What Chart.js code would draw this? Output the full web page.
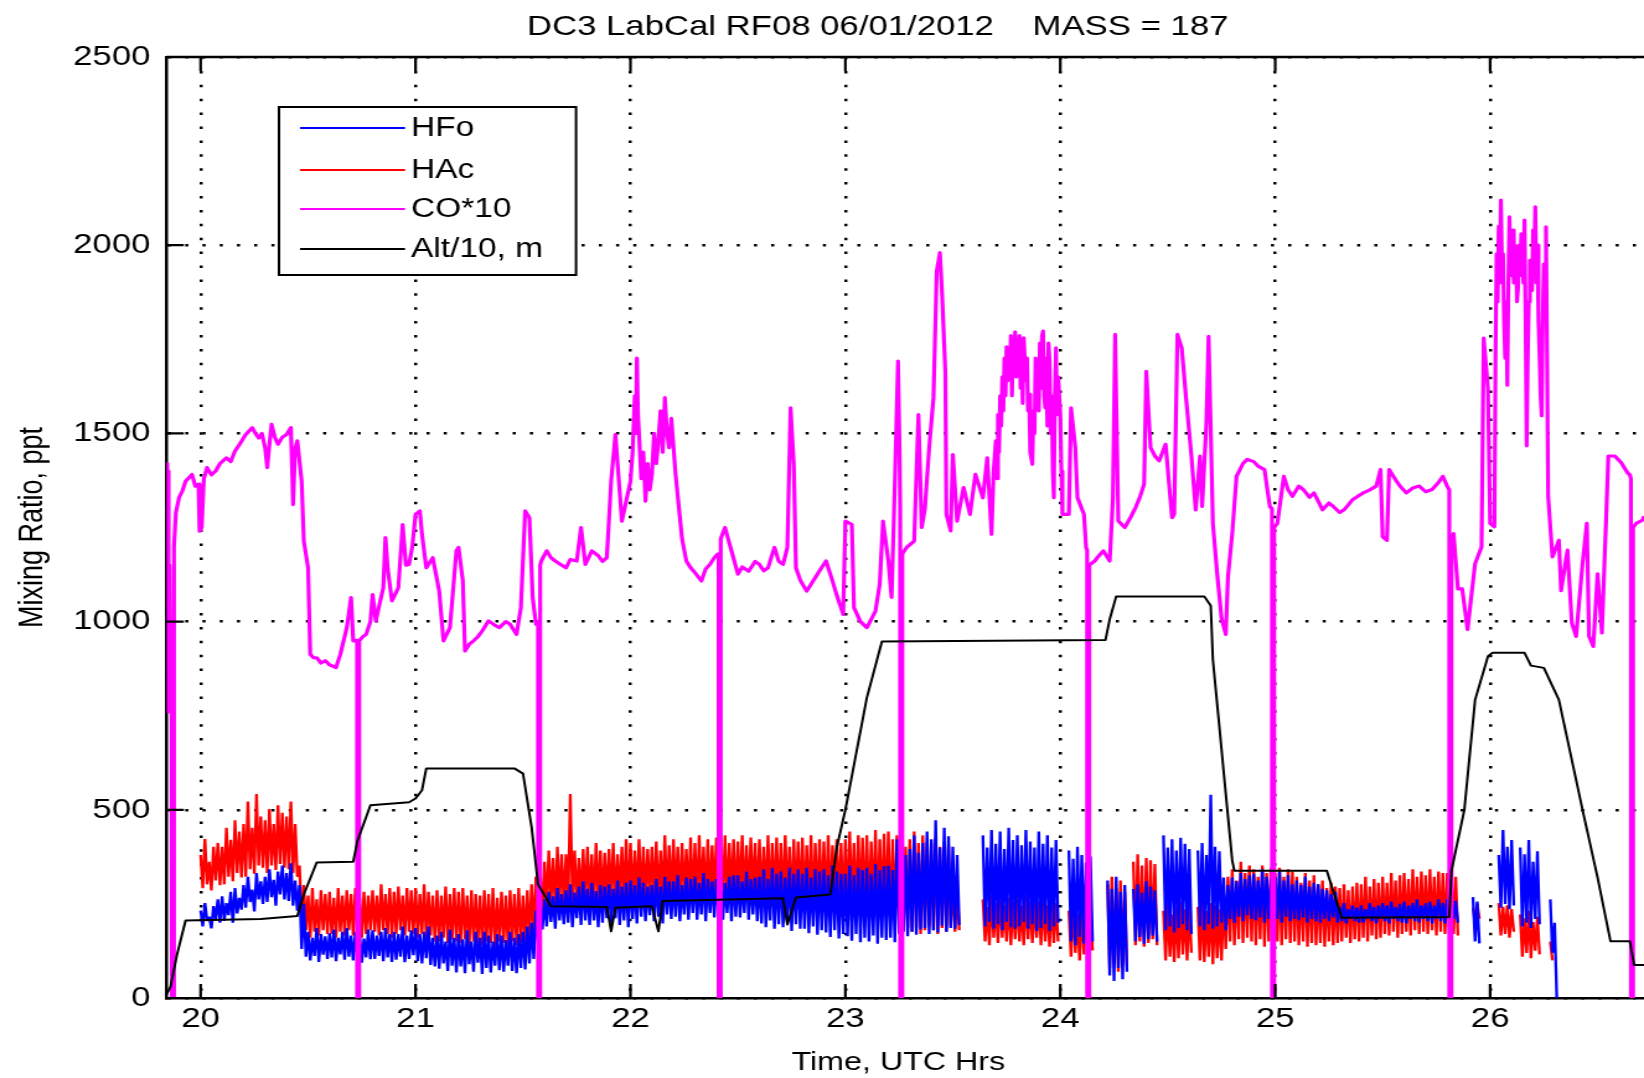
<!DOCTYPE html>
<html><head><meta charset="utf-8">
<script src="https://cdn.jsdelivr.net/npm/chart.js@4.4.1/dist/chart.umd.min.js"></script>
<style>
html,body{margin:0;padding:0;background:#fff;overflow:hidden;width:1644px;height:1078px;}
#wrap{position:absolute;left:0;top:0;width:1326px;height:1078px;transform:scaleX(1.23982);transform-origin:0 0;}
canvas{display:block;}
</style></head><body>
<div id="wrap"><canvas id="c" width="1326" height="1078"></canvas></div>
<script>
// ---------------- data ----------------
const titleText = 'DC3 LabCal RF08 06/01/2012    MASS = 187';
const xTitle = 'Time, UTC Hrs';
const yTitle = 'Mixing Ratio, ppt';
const seriesNames = ['HFo', 'HAc', 'CO*10', 'Alt/10, m'];
const xTicks = [20, 21, 22, 23, 24, 25, 26];
const yTicks = [0, 500, 1000, 1500, 2000, 2500];
const xRange = [19.8413, 26.716];
const yRange = [0, 2500];

// HFo / HAc : min & max per 0.02 h time bin, bins from 20.00 h to 26.30 h
const binStart = 20.0, binStep = 0.02;

const hfoLo = [
190,205,185,210,200, 205,220,200,225,235, 240,255,230,262,250, 255,268,245,275,262,
258,245,232,130,110, 100,112,96,115,104, 108,98,116,102,110, 100,106,94,108,103,
104,112,98,108,96, 102,110,95,104,114, 98,92,106,88,84, 78,92,72,86,68,
84,66,90,70,94, 64,80,68,86,74, 70,86,72,66,80, 76,92,104,150,182,
190,202,184,206,196, 200,188,212,194,206, 194,206,188,200,212, 198,212,194,206,188,
210,198,216,204,220, 204,216,198,222,210, 216,204,222,208,226, 208,222,204,226,214,
220,208,226,204,216, 214,226,208,222,204, 198,188,206,184,196, 188,200,178,196,184,
184,172,190,168,180, 174,162,180,158,170, 164,152,170,148,160, 150,166,144,160,154,
160,148,170,176,164, 176,168,182,186,170, 180,174,192,176,186, 184,194,null,null,null,
null,null,190,202,184, 196,180,202,188,184, 190,202,184,196,178, 186,196,178,190,200,
null,null,150,140,162, 144,134,150,null,null, null,60,45,80,50, 70,null,150,162,144,
156,166,150,null,180, 190,174,186,196,180, 170,null,190,180,196, 184,190,200,180,210,
200,216,204,220,210, 206,214,200,210,220, 210,200,216,204,210, 206,214,200,210,204,
200,210,204,214,200, 204,198,210,204,200, 200,210,204,198,210, 204,198,210,204,200,
198,210,204,200,210, 204,198,210,204,198, 204,210,200,null,null, null,150,145,null,null,
null,null,240,250,236, 246,null,190,200,186, 210,196,null,null,120,
0];
const hfoHi = [
232,252,216,244,262, 270,252,282,292,266, 300,322,288,332,310, 322,342,314,336,352,
332,358,312,300,250, 176,160,186,170,164, 172,182,160,176,186, 166,176,170,158,182,
180,166,176,186,170, 176,170,190,166,180, 186,170,176,190,160, 166,176,150,182,160,
170,156,180,150,176, 160,176,166,150,170, 166,154,176,160,170, 176,190,200,232,250,
262,282,270,292,276, 286,302,280,296,310, 290,306,284,300,296, 302,290,312,296,306,
312,300,320,306,296, 300,316,296,322,310, 310,326,300,320,316, 322,306,332,316,310,
316,330,306,322,326, 326,310,336,316,320, 322,342,316,346,330, 336,320,346,330,342,
330,346,320,342,336, 342,326,352,336,330, 330,352,326,346,340, 346,330,356,340,350,
352,340,422,400,380, 396,432,386,412,442, 422,472,400,452,430, 402,380,null,null,null,
null,null,432,400,446, 410,442,396,452,420, 432,406,446,416,400, 442,410,432,400,420,
null,null,392,370,402, 380,360,376,null,null, null,312,290,322,282, 300,null,290,302,280,
310,296,286,null,432, 400,422,392,426,410, 396,null,392,412,380, 540,402,390,320,300,
320,310,332,316,326, 330,312,342,322,316, 322,336,312,326,302, 312,300,322,296,306,
302,290,286,276,282, 242,252,236,246,240, 246,236,252,242,246, 252,246,256,242,250,
256,246,252,262,246, 252,256,246,262,252, 262,252,258,null,null, null,268,256,null,null,
null,null,380,446,402, 420,null,400,382,420, 362,390,null,null,262,
200];

const hacLo = [
292,302,286,312,300, 302,322,310,332,320, 322,342,330,352,346, 332,352,340,356,346,
342,332,322,200,180, 160,176,166,180,170, 170,160,176,166,180, 166,176,160,170,180,
176,166,180,170,160, 170,180,166,176,170, 160,170,156,166,150, 150,160,146,156,150,
146,156,140,150,146, 140,150,146,136,150, 146,136,150,140,146, 150,160,170,200,220,
240,250,236,256,246, 250,260,246,256,250, 256,246,260,250,266, 260,250,266,256,246,
256,266,250,260,270, 260,250,266,256,260, 266,256,270,260,250, 256,266,250,260,270,
260,270,256,266,250, 266,256,260,270,256, 250,260,246,256,250, 246,256,240,250,246,
240,250,236,246,240, 236,246,230,240,236, 230,240,226,236,230, 226,236,220,230,226,
200,210,190,180,186, 176,186,170,180,190, 180,170,186,176,190, 176,180,null,null,null,
null,null,150,140,160, 146,160,150,140,156, 150,140,156,146,160, 140,150,136,146,150,
null,null,110,120,100, 116,106,126,null,null, null,80,90,70,96, 86,null,140,150,136,
146,156,140,null,100, 110,96,106,116,100, 120,null,100,96,110, 90,106,100,130,150,
140,156,146,160,150, 140,156,136,150,146, 150,140,156,146,150, 140,150,136,146,140,
146,136,150,140,146, 150,160,146,156,150, 160,150,166,156,160, 170,166,176,160,170,
176,166,180,170,176, 170,180,166,176,170, 176,170,166,null,null, null,200,210,null,null,
null,null,166,170,160, 176,null,110,120,106, 126,116,null,null,100,
null];
const hacHi = [
380,422,362,402,412, 402,452,420,472,442, 462,522,452,542,482, 472,502,462,512,492,
482,522,462,352,300, 272,292,262,286,276, 282,266,292,272,286, 276,292,266,282,272,
286,272,302,276,292, 282,296,272,292,286, 292,276,302,282,272, 286,272,296,276,292,
282,292,272,286,276, 272,286,276,292,266, 282,272,286,276,292, 272,286,302,322,332,
362,392,372,402,382, 382,542,392,372,396, 402,382,412,392,386, 396,412,382,402,422,
412,392,422,402,396, 402,416,392,432,406, 422,402,412,396,426, 412,432,402,422,406,
426,402,432,412,422, 416,432,406,426,412, 422,402,432,412,426, 412,432,402,422,416,
426,406,432,412,422, 416,432,406,422,412, 422,442,412,432,426, 432,416,446,422,436,
442,422,432,412,402, 422,442,412,432,416, 412,426,402,416,406, 302,282,null,null,null,
null,null,262,242,272, 252,272,246,266,256, 262,246,272,256,252, 256,266,246,262,252,
null,null,232,252,222, 242,236,246,null,null, null,302,322,292,312, 282,null,362,382,352,
372,366,356,null,232, 252,222,242,256,236, 246,null,242,262,232, 252,246,236,262,322,
342,312,362,332,352, 342,322,352,332,346, 332,346,322,342,336, 322,306,332,312,326,
302,312,292,306,296, 292,302,286,296,306, 302,322,296,316,306, 322,306,332,312,326,
332,316,342,322,336, 326,342,322,336,332, 332,342,322,null,null, null,240,250,null,null,
null,null,252,242,246, 236,null,222,212,232, 202,216,null,null,150,
null];

// CO*10 : [time h, value]
const coSeries = [
[19.8415,1420],[19.845,1250],[19.848,1400],[19.851,760],[19.855,1150],[19.86,820],[19.865,900],
[19.866,0],[19.876,0],[19.876,1200],
[19.885,1290],[19.90,1330],[19.915,1347],[19.93,1373],[19.96,1391],[19.975,1360],[19.99,1365],[19.995,1240],[20.005,1250],[20.015,1380],
[20.03,1409],[20.05,1390],[20.07,1400],[20.09,1420],[20.12,1435],[20.14,1425],[20.16,1453],[20.18,1470],[20.21,1497],[20.24,1515],
[20.255,1500],[20.27,1488],[20.285,1500],[20.30,1462],[20.31,1409],[20.32,1470],[20.33,1524],[20.345,1490],[20.36,1471],[20.38,1490],
[20.40,1497],[20.42,1515],[20.43,1311],[20.44,1460],[20.45,1480],[20.47,1373],[20.48,1214],[20.50,1143],[20.51,913],[20.525,904],
[20.54,904],[20.56,890],[20.58,896],[20.60,885],[20.63,878],[20.65,913],[20.68,984],[20.70,1064],[20.71,949],[20.725,950],
[20.728,950],[20.728,0],[20.738,0],[20.738,949],
[20.755,960],[20.77,966],[20.79,1000],[20.80,1072],[20.815,1002],[20.83,1040],[20.85,1090],[20.86,1223],[20.87,1143],[20.89,1055],
[20.92,1090],[20.94,1258],[20.955,1150],[20.97,1152],[20.985,1200],[21.0,1285],[21.02,1294],[21.03,1232],[21.05,1143],[21.08,1170],
[21.11,1081],[21.13,949],[21.16,984],[21.19,1188],[21.20,1197],[21.22,1108],[21.23,922],[21.25,940],[21.27,949],[21.29,960],
[21.31,975],[21.34,1002],[21.37,990],[21.39,984],[21.42,1000],[21.44,993],[21.47,966],[21.49,1037],[21.51,1294],[21.53,1276],
[21.545,1064],[21.56,993],
[21.57,1000],[21.57,0],[21.58,0],[21.58,1150],
[21.585,1161],[21.61,1188],[21.63,1170],[21.65,1161],[21.68,1150],[21.70,1143],[21.72,1165],[21.75,1161],[21.77,1250],[21.79,1152],
[21.82,1188],[21.85,1175],[21.87,1160],[21.89,1170],[21.91,1373],[21.93,1497],[21.96,1267],[21.98,1320],[22.0,1373],[22.01,1450],[22.02,1600],
[22.025,1500],[22.03,1700],[22.035,1550],[22.04,1497],[22.05,1380],[22.06,1450],[22.07,1320],[22.08,1420],[22.09,1350],[22.10,1391],[22.11,1500],[22.12,1420],[22.13,1480],[22.14,1560],[22.15,1450],[22.16,1595],[22.17,1500],[22.18,1462],[22.19,1540],[22.21,1391],[22.24,1220],[22.26,1161],
[22.28,1143],[22.30,1130],[22.33,1108],[22.35,1140],[22.37,1152],[22.39,1170],[22.405,1179],
[22.41,1180],[22.41,0],[22.42,0],[22.42,1220],
[22.44,1250],[22.47,1188],[22.50,1126],[22.52,1145],[22.55,1134],[22.58,1160],[22.60,1152],[22.62,1135],[22.64,1143],[22.67,1197],
[22.69,1160],[22.71,1152],[22.73,1197],[22.745,1568],[22.76,1418],[22.77,1143],[22.79,1110],[22.82,1081],[22.85,1108],[22.88,1135],
[22.91,1161],[22.94,1108],[22.96,1070],[22.99,1019],[23.0,1267],[23.03,1258],[23.04,1037],[23.07,1000],[23.10,984],[23.14,1028],
[23.16,1100],[23.175,1267],[23.20,1161],[23.215,1064],[23.23,1365],[23.245,1692],[23.252,1462],
[23.255,1300],[23.255,0],[23.265,0],[23.265,1180],
[23.285,1197],[23.32,1214],[23.34,1550],[23.355,1250],[23.37,1300],[23.39,1462],[23.41,1595],[23.425,1931],[23.44,1980],[23.45,1869],
[23.465,1665],[23.47,1285],[23.49,1241],[23.50,1444],[23.52,1267],[23.55,1356],[23.58,1285],[23.605,1391],[23.64,1329],[23.66,1435],
[23.68,1232],[23.69,1400],[23.70,1480],[23.705,1380],[23.71,1550],[23.715,1450],[23.72,1600],[23.725,1520],[23.73,1650],[23.735,1560],
[23.74,1700],[23.745,1600],[23.75,1730],[23.755,1640],[23.76,1719],[23.765,1660],[23.77,1760],[23.775,1600],[23.78,1740],[23.785,1680],
[23.79,1770],[23.795,1650],[23.80,1745],[23.805,1690],[23.81,1760],[23.815,1620],[23.82,1750],[23.825,1580],[23.83,1754],[23.84,1640],
[23.845,1700],[23.85,1560],[23.855,1604],[23.86,1450],[23.87,1418],[23.875,1560],[23.88,1500],[23.885,1700],[23.89,1600],[23.895,1674],
[23.90,1560],[23.905,1740],[23.91,1620],[23.915,1760],[23.92,1772],[23.925,1600],[23.93,1568],[23.935,1700],[23.94,1520],[23.945,1740],
[23.95,1692],[23.955,1500],[23.96,1600],[23.965,1400],[23.97,1329],[23.975,1600],[23.98,1727],[23.985,1550],[23.99,1650],[24.0,1550],
[24.005,1400],[24.01,1285],[24.04,1285],[24.05,1568],[24.07,1462],
[24.08,1329],[24.11,1285],[24.12,1197],
[24.125,1190],[24.125,0],[24.135,0],[24.135,1150],
[24.16,1161],[24.18,1175],[24.20,1188],[24.23,1161],[24.245,1329],[24.255,1763],[24.27,1267],[24.30,1250],[24.33,1280],[24.35,1303],
[24.37,1330],[24.39,1365],[24.40,1665],[24.42,1462],[24.44,1440],[24.46,1427],[24.49,1471],[24.52,1276],[24.53,1285],[24.545,1763],
[24.565,1727],[24.585,1595],[24.61,1440],[24.63,1297],[24.65,1440],[24.66,1306],[24.68,1530],[24.69,1758],[24.71,1261],[24.73,1127],
[24.75,1010],[24.77,966],[24.78,1118],[24.80,1234],[24.82,1386],[24.85,1420],[24.87,1431],[24.90,1425],[24.92,1413],[24.95,1404],
[24.975,1306],
[24.985,1300],[24.985,0],[24.995,0],[24.995,1250],
[25.01,1261],[25.04,1386],[25.06,1350],[25.08,1333],[25.11,1360],[25.13,1351],[25.16,1330],[25.18,1342],[25.20,1320],[25.22,1297],
[25.25,1315],[25.27,1306],[25.30,1290],[25.32,1297],[25.34,1310],[25.36,1324],[25.39,1335],[25.41,1342],[25.44,1350],[25.47,1360],
[25.49,1404],[25.50,1225],[25.52,1216],[25.53,1404],[25.56,1377],[25.58,1360],[25.61,1342],[25.64,1355],[25.67,1360],[25.70,1345],
[25.73,1351],[25.76,1370],[25.78,1386],[25.80,1360],
[25.81,1350],[25.81,0],[25.82,0],[25.82,1200],
[25.83,1234],[25.85,1087],[25.87,1087],[25.895,979],[25.91,1055],[25.93,1154],[25.96,1198],[25.97,1753],[25.99,1619],[26.0,1261],
[26.02,1252],[26.025,1700],[26.03,1977],[26.035,1850],[26.04,2050],[26.045,1900],[26.05,2120],[26.055,1950],[26.06,1977],[26.065,1800],
[26.07,1700],[26.075,1850],[26.08,1628],[26.085,1900],[26.09,2075],[26.095,1920],[26.10,1950],[26.105,2040],[26.11,1900],[26.115,2000],
[26.12,1995],[26.125,1850],[26.13,1888],[26.135,2000],[26.14,1920],[26.145,2030],[26.15,2000],[26.155,1900],[26.16,2067],[26.165,1800],
[26.17,1467],[26.175,1700],[26.18,1850],[26.185,1960],[26.19,1959],[26.195,1880],[26.20,2040],[26.205,1950],[26.21,2102],[26.215,1900],
[26.22,2000],[26.225,1800],[26.23,1709],[26.235,1600],[26.24,1547],[26.245,1800],[26.25,1950],[26.255,1850],[26.26,2049],[26.265,1700],
[26.27,1333],[26.29,1172],[26.32,1216],
[26.33,1082],[26.36,1190],[26.38,997],[26.40,961],[26.43,1154],[26.45,1261],[26.46,961],[26.48,934],[26.50,1127],[26.52,970],
[26.54,1279],[26.55,1440],[26.58,1440],[26.61,1422],[26.64,1395],[26.65,1390],
[26.655,1380],[26.655,0],[26.665,0],[26.665,1250],
[26.68,1261],[26.71,1270],[26.716,1280]
];

// Alt/10 : [time h, value]
const altSeries = [
[19.842,10],[19.86,30],[19.89,115],[19.93,206],[20.28,210],[20.45,218],[20.48,275],[20.54,360],[20.71,362],[20.73,418],
[20.79,512],[20.97,520],[21.0,530],[21.03,552],[21.05,610],[21.46,610],[21.50,596],[21.54,454],[21.57,302],[21.63,244],
[21.89,242],[21.91,177],[21.93,240],[22.10,244],[22.13,177],[22.15,258],[22.71,265],[22.73,195],[22.77,267],[22.93,275],
[22.96,400],[23.0,500],[23.10,798],[23.17,947],[24.21,951],[24.23,1006],[24.26,1067],[24.67,1067],[24.70,1042],[24.71,899],
[24.80,365],[24.81,338],[25.24,338],[25.26,302],[25.31,213],[25.81,215],[25.82,338],[25.88,500],[25.93,792],[25.99,908],
[26.01,917],[26.16,917],[26.19,883],[26.25,877],[26.32,792],[26.43,500],[26.50,320],[26.56,151],[26.65,151],[26.67,88],
[26.716,88]
];

// ---------------- build ----------------
function minMaxTrace(lo, hi) {
  const pts = [];
  for (let i = 0; i < lo.length; i++) {
    const t = +(binStart + i * binStep).toFixed(4);
    if (lo[i] == null || hi[i] == null) { pts.push({x: t, y: null}); continue; }
    pts.push({x: t, y: hi[i]});
    pts.push({x: +(t + binStep / 2).toFixed(4), y: lo[i]});
  }
  return pts;
}
const toXY = arr => arr.map(p => ({x: p[0], y: p[1]}));

const FONT = '"Liberation Sans", Arial, Helvetica, sans-serif';
const colors = ['#0000ff', '#ff0000', '#ff00ff', '#000000'];

const decor = {
  id: 'decor',
  afterDatasetsDraw(chart) {
    const {ctx, chartArea: a, scales: {x, y}} = chart;
    ctx.save();
    ctx.strokeStyle = '#000';
    ctx.setLineDash([]);
    ctx.lineWidth = 2.5;
    ctx.beginPath(); ctx.moveTo(a.left, a.top); ctx.lineTo(a.right, a.top); ctx.stroke();
    ctx.lineWidth = 2.2;
    ctx.beginPath();
    x.ticks.forEach(t => {
      const px = x.getPixelForValue(t.value);
      ctx.moveTo(px, a.bottom); ctx.lineTo(px, a.bottom - 14);
      ctx.moveTo(px, a.top); ctx.lineTo(px, a.top + 14);
    });
    y.ticks.forEach(t => {
      const py = y.getPixelForValue(t.value);
      ctx.moveTo(a.left, py); ctx.lineTo(a.left + 14, py);
    });
    ctx.stroke();
    ctx.restore();
  },
  afterDraw(chart) {
    const {ctx, chartArea: a} = chart;
    ctx.save();
    ctx.fillStyle = '#000';
    ctx.textAlign = 'left'; ctx.textBaseline = 'alphabetic';
    ctx.font = '28px ' + FONT;
    ctx.fillText(titleText, 425, 35);
    ctx.textAlign = 'center';
    ctx.font = '26px ' + FONT;
    ctx.fillText(xTitle, 724.6, 1070);
    ctx.save();
    ctx.translate(27, (a.top + a.bottom) / 2);
    ctx.rotate(-Math.PI / 2);
    ctx.textBaseline = 'middle';
    ctx.font = '27px ' + FONT;
    ctx.fillText(yTitle, 0, 0);
    ctx.restore();
    // legend box
    const bx = a.left + 90.7, by = a.top + 50, bw = 239.6, bh = 168;
    ctx.fillStyle = '#fff';
    ctx.fillRect(bx, by, bw, bh);
    ctx.strokeStyle = '#000'; ctx.lineWidth = 2;
    ctx.strokeRect(bx, by, bw, bh);
    const rows = [21, 63, 102, 142];
    ctx.font = '27px ' + FONT;
    ctx.textAlign = 'left'; ctx.textBaseline = 'middle';
    seriesNames.forEach((name, i) => {
      const ly = by + rows[i];
      ctx.strokeStyle = colors[i]; ctx.lineWidth = 2;
      ctx.beginPath(); ctx.moveTo(bx + 17, ly); ctx.lineTo(bx + 101.7, ly); ctx.stroke();
      ctx.fillStyle = '#000';
      ctx.fillText(name, bx + 106.5, ly + 1);
    });
    ctx.restore();
  }
};

const tickFont = {family: FONT, size: 28};

new Chart(document.getElementById('c'), {
  type: 'line',
  data: {
    datasets: [
      {label: seriesNames[0], data: minMaxTrace(hfoLo, hfoHi), borderColor: colors[0], borderWidth: 2.3,
       pointRadius: 0, borderJoinStyle: 'bevel', spanGaps: false, order: 2},
      {label: seriesNames[1], data: minMaxTrace(hacLo, hacHi), borderColor: colors[1], borderWidth: 2.3,
       pointRadius: 0, borderJoinStyle: 'bevel', spanGaps: false, order: 3},
      {label: seriesNames[2], data: toXY(coSeries), borderColor: colors[2], borderWidth: 3.2,
       pointRadius: 0, borderJoinStyle: 'round', order: 1},
      {label: seriesNames[3], data: toXY(altSeries), borderColor: colors[3], borderWidth: 2,
       pointRadius: 0, borderJoinStyle: 'round', order: 0}
    ]
  },
  options: {
    responsive: false,
    animation: false,
    devicePixelRatio: 1,
    events: [],
    layout: {padding: {top: 57, left: 0, right: 0, bottom: 0}},
    plugins: {legend: {display: false}, tooltip: {enabled: false}, title: {display: false}},
    scales: {
      x: {
        type: 'linear', min: xRange[0], max: xRange[1],
        afterBuildTicks: s => { s.ticks = xTicks.map(v => ({value: v})); },
        afterFit: s => { s.height = 80; },
        ticks: {color: '#000', font: tickFont, padding: 4, maxRotation: 0, autoSkip: false, callback: v => String(v)},
        grid: {color: '#000', lineWidth: 2.5, drawTicks: false},
        border: {display: true, color: '#000', width: 2.5, dash: [2.5, 11.4]}
      },
      y: {
        type: 'linear', min: yRange[0], max: yRange[1],
        afterBuildTicks: s => { s.ticks = yTicks.map(v => ({value: v})); },
        afterFit: s => { s.width = 134.3; },
        ticks: {color: '#000', font: tickFont, padding: 13, autoSkip: false, callback: v => String(v)},
        grid: {color: '#000', lineWidth: 2.5, drawTicks: false},
        border: {display: true, color: '#000', width: 2.5, dash: [2.5, 11.4]}
      }
    }
  },
  plugins: [decor]
});
</script>
</body></html>
